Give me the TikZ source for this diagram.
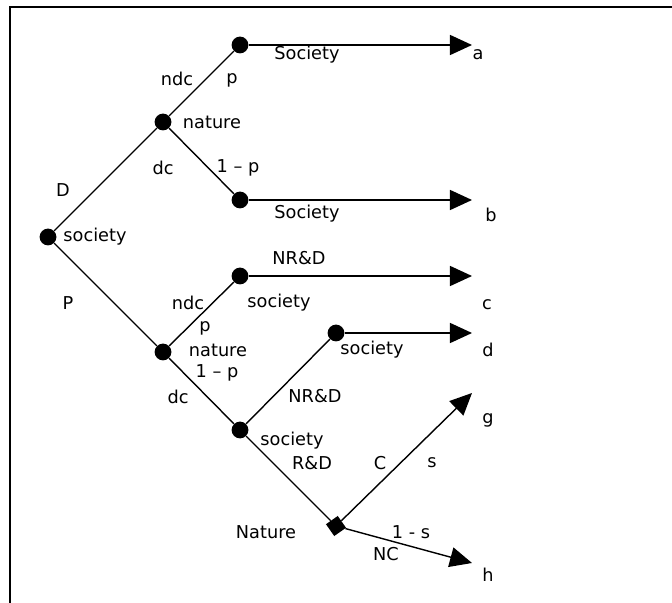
\documentclass[tikz,border=0pt]{standalone}
\usepackage{fontspec}
\setmainfont{DejaVu Sans}
\usetikzlibrary{arrows.meta}

\begin{document}
\begin{tikzpicture}[x=0.025cm, y=-0.025cm,
	dot/.style={circle, fill=black, inner sep=0pt, minimum size=0.42cm},
	sq/.style={rectangle, fill=black, inner sep=0pt, minimum size=0.36cm, rotate=35},
	lbl/.style={font=\fontsize{12.6}{14}\selectfont, inner sep=0pt},
	branch/.style={black, line width=1pt},
	payoff/.style={branch, -{Triangle[length=0.55cm, width=0.5cm]}}]
	
	\useasboundingbox (0,0) rectangle (672,603);
	\draw[line width=1.4pt] (10,603) -- (10,7) -- (672,7);
	
	% decision nodes
	\node[dot] (root) at (48,237) {};
	\node[dot] (natA) at (163,122) {};
	\node[dot] (socA) at (240,45) {};
	\node[dot] (socB) at (240,200) {};
	\node[dot] (natB) at (163,352) {};
	\node[dot] (socC) at (240,276) {};
	\node[dot] (socD) at (240,430) {};
	\node[dot] (socE) at (336,333) {};
	\node[sq] (natC) at (336,526) {};
	
	% payoffs
	\coordinate (ea) at (472,45);
	\coordinate (eb) at (472,200);
	\coordinate (ec) at (472,276);
	\coordinate (ed) at (472,333);
	\coordinate (eg) at (472,393);
	\coordinate (eh) at (472,563);
	
	\draw[branch] (root) -- (natA) -- (socA);
	\draw[branch] (natA) -- (socB);
	\draw[branch] (root) -- (natB) -- (socC);
	\draw[branch] (natB) -- (socD) -- (socE);
	\draw[branch] (socD) -- (natC);
	
	\draw[payoff] (socA) -- (ea);
	\draw[payoff] (socB) -- (eb);
	\draw[payoff] (socC) -- (ec);
	\draw[payoff] (socE) -- (ed);
	\draw[payoff] (natC) -- (eg);
	\draw[payoff] (natC) -- (eh);
	
	% labels
	\node[lbl] (lD) at (63,190) {D};
	\node[lbl] (lP) at (68,303) {P};
	\node[lbl] (lroot) at (95,237) {society};
	
	\node[lbl] (lndcA) at (177,79) {ndc};
	\node[lbl] (lpA) at (232,80) {p};
	\node[lbl] (lnatA) at (212,122) {nature};
	\node[lbl] (ldcA) at (163,168) {dc};
	\node[lbl] (lqA) at (238,168) {1 -- p};
	\node[lbl] (lsocA) at (307,55) {Society};
	\node[lbl] (lsocB) at (307,214) {Society};
	
	\node[lbl] (lnrdA) at (299,258) {NR\&D};
	\node[lbl] (lndcB) at (188,303) {ndc};
	\node[lbl] (lsocC) at (279,303) {society};
	\node[lbl] (lpB) at (205,328) {p};
	\node[lbl] (lnatB) at (218,350) {nature};
	\node[lbl] (lqB) at (217,373) {1 -- p};
	\node[lbl] (ldcB) at (178,397) {dc};
	\node[lbl] (lsocE) at (372,350) {society};
	\node[lbl] (lnrdB) at (315,396) {NR\&D};
	\node[lbl] (lsocD) at (292,441) {society};
	\node[lbl] (lrd) at (312,463) {R\&D};
	\node[lbl] (lnatC) at (266,532) {Nature};
	\node[lbl] (lC) at (380,463) {C};
	\node[lbl] (ls) at (432,463) {s};
	\node[lbl] (lns) at (411,532) {1 - s};
	\node[lbl] (lNC) at (386,554) {NC};
	
	\node[lbl] (la) at (478,55) {a};
	\node[lbl] (lb) at (491,215) {b};
	\node[lbl] (lc) at (487,305) {c};
	\node[lbl] (ld) at (488,350) {d};
	\node[lbl] (lg) at (488,420) {g};
	\node[lbl] (lh) at (488,575) {h};

\end{tikzpicture}
\end{document}
